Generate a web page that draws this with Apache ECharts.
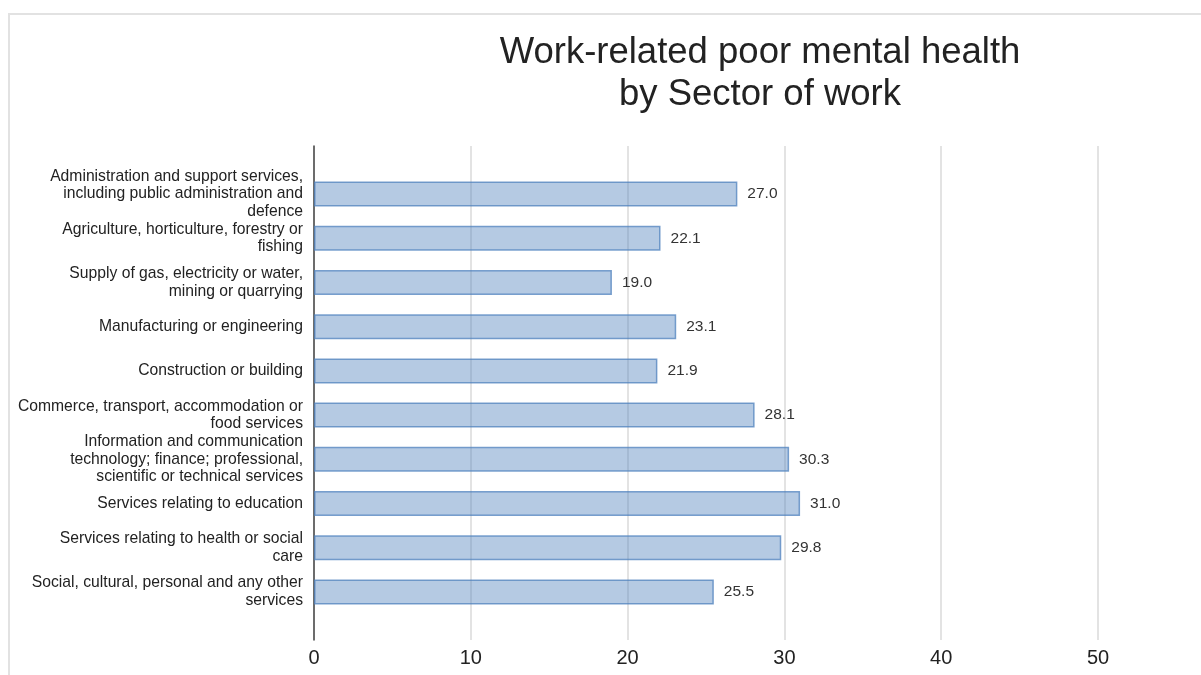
<!DOCTYPE html>
<html>
<head>
<meta charset="utf-8">
<script src="https://cdn.jsdelivr.net/npm/echarts@6/dist/echarts.min.js"></script>
<style>
  html, body { margin: 0; padding: 0; background: #fff; }
  #frame { position: absolute; left: 8px; top: 13px; width: 1200px; height: 670px; border: 2px solid #e2e2e2; box-sizing: border-box; }
  #chart { position: absolute; left: 0; top: 0; width: 1201px; height: 675px; }
</style>
</head>
<body>
<div id="frame"></div>
<div id="chart"></div>
<script>
const sectors = [
  'Administration and support services,\nincluding public administration and\ndefence',
  'Agriculture, horticulture, forestry or\nfishing',
  'Supply of gas, electricity or water,\nmining or quarrying',
  'Manufacturing or engineering',
  'Construction or building',
  'Commerce, transport, accommodation or\nfood services',
  'Information and communication\ntechnology; finance; professional,\nscientific or technical services',
  'Services relating to education',
  'Services relating to health or social\ncare',
  'Social, cultural, personal and any other\nservices'
];
const rates = [27.0, 22.1, 19.0, 23.1, 21.9, 28.1, 30.3, 31.0, 29.8, 25.5];
const xTicks = [0, 10, 20, 30, 40, 50];

const chart = echarts.init(document.getElementById('chart'));
const font = "'Liberation Sans', Arial, sans-serif";

chart.setOption({
  animation: false,
  title: {
    text: 'Work-related poor mental health\nby Sector of work',
    left: 755,
    top: 27,
    textAlign: 'center',
    textStyle: { fontFamily: font, fontSize: 36.5, fontWeight: 'normal', color: '#222', lineHeight: 42 }
  },
  grid: [
    { left: 314, right: 103, top: 146, bottom: 35 },
    { left: 314, right: 103, top: 172, bottom: 61 }
  ],
  xAxis: [
    {
      gridIndex: 0, type: 'value', min: xTicks[0], max: xTicks[xTicks.length - 1], interval: 10,
      axisLine: { show: false }, axisTick: { show: false },
      axisLabel: { fontFamily: font, fontSize: 20, color: '#222', margin: 8 },
      splitLine: { show: true, lineStyle: { color: '#e3e3e3', width: 2 } }
    },
    {
      gridIndex: 1, type: 'value', min: xTicks[0], max: xTicks[xTicks.length - 1], show: false
    }
  ],
  yAxis: [
    {
      gridIndex: 0, type: 'value', min: 0, max: 1,
      axisLine: { show: true, lineStyle: { color: '#444', width: 1.5 } },
      axisTick: { show: false }, axisLabel: { show: false }, splitLine: { show: false }
    },
    {
      gridIndex: 1, type: 'category', data: sectors, inverse: true,
      axisLine: { show: false }, axisTick: { show: false },
      axisLabel: { fontFamily: font, fontSize: 15.7, color: '#222', lineHeight: 17.5, margin: 11, align: 'right' }
    }
  ],
  series: [{
    type: 'bar',
    xAxisIndex: 1,
    yAxisIndex: 1,
    data: rates,
    barWidth: 25,
    itemStyle: { color: 'rgba(79,129,189,0.42)', borderColor: 'rgba(79,129,189,0.75)', borderWidth: 1.5 },
    label: {
      show: true, position: 'right', distance: 10,
      fontFamily: font, fontSize: 15.5, color: '#333',
      formatter: p => p.value.toFixed(1)
    }
  }]
});
</script>
</body>
</html>
